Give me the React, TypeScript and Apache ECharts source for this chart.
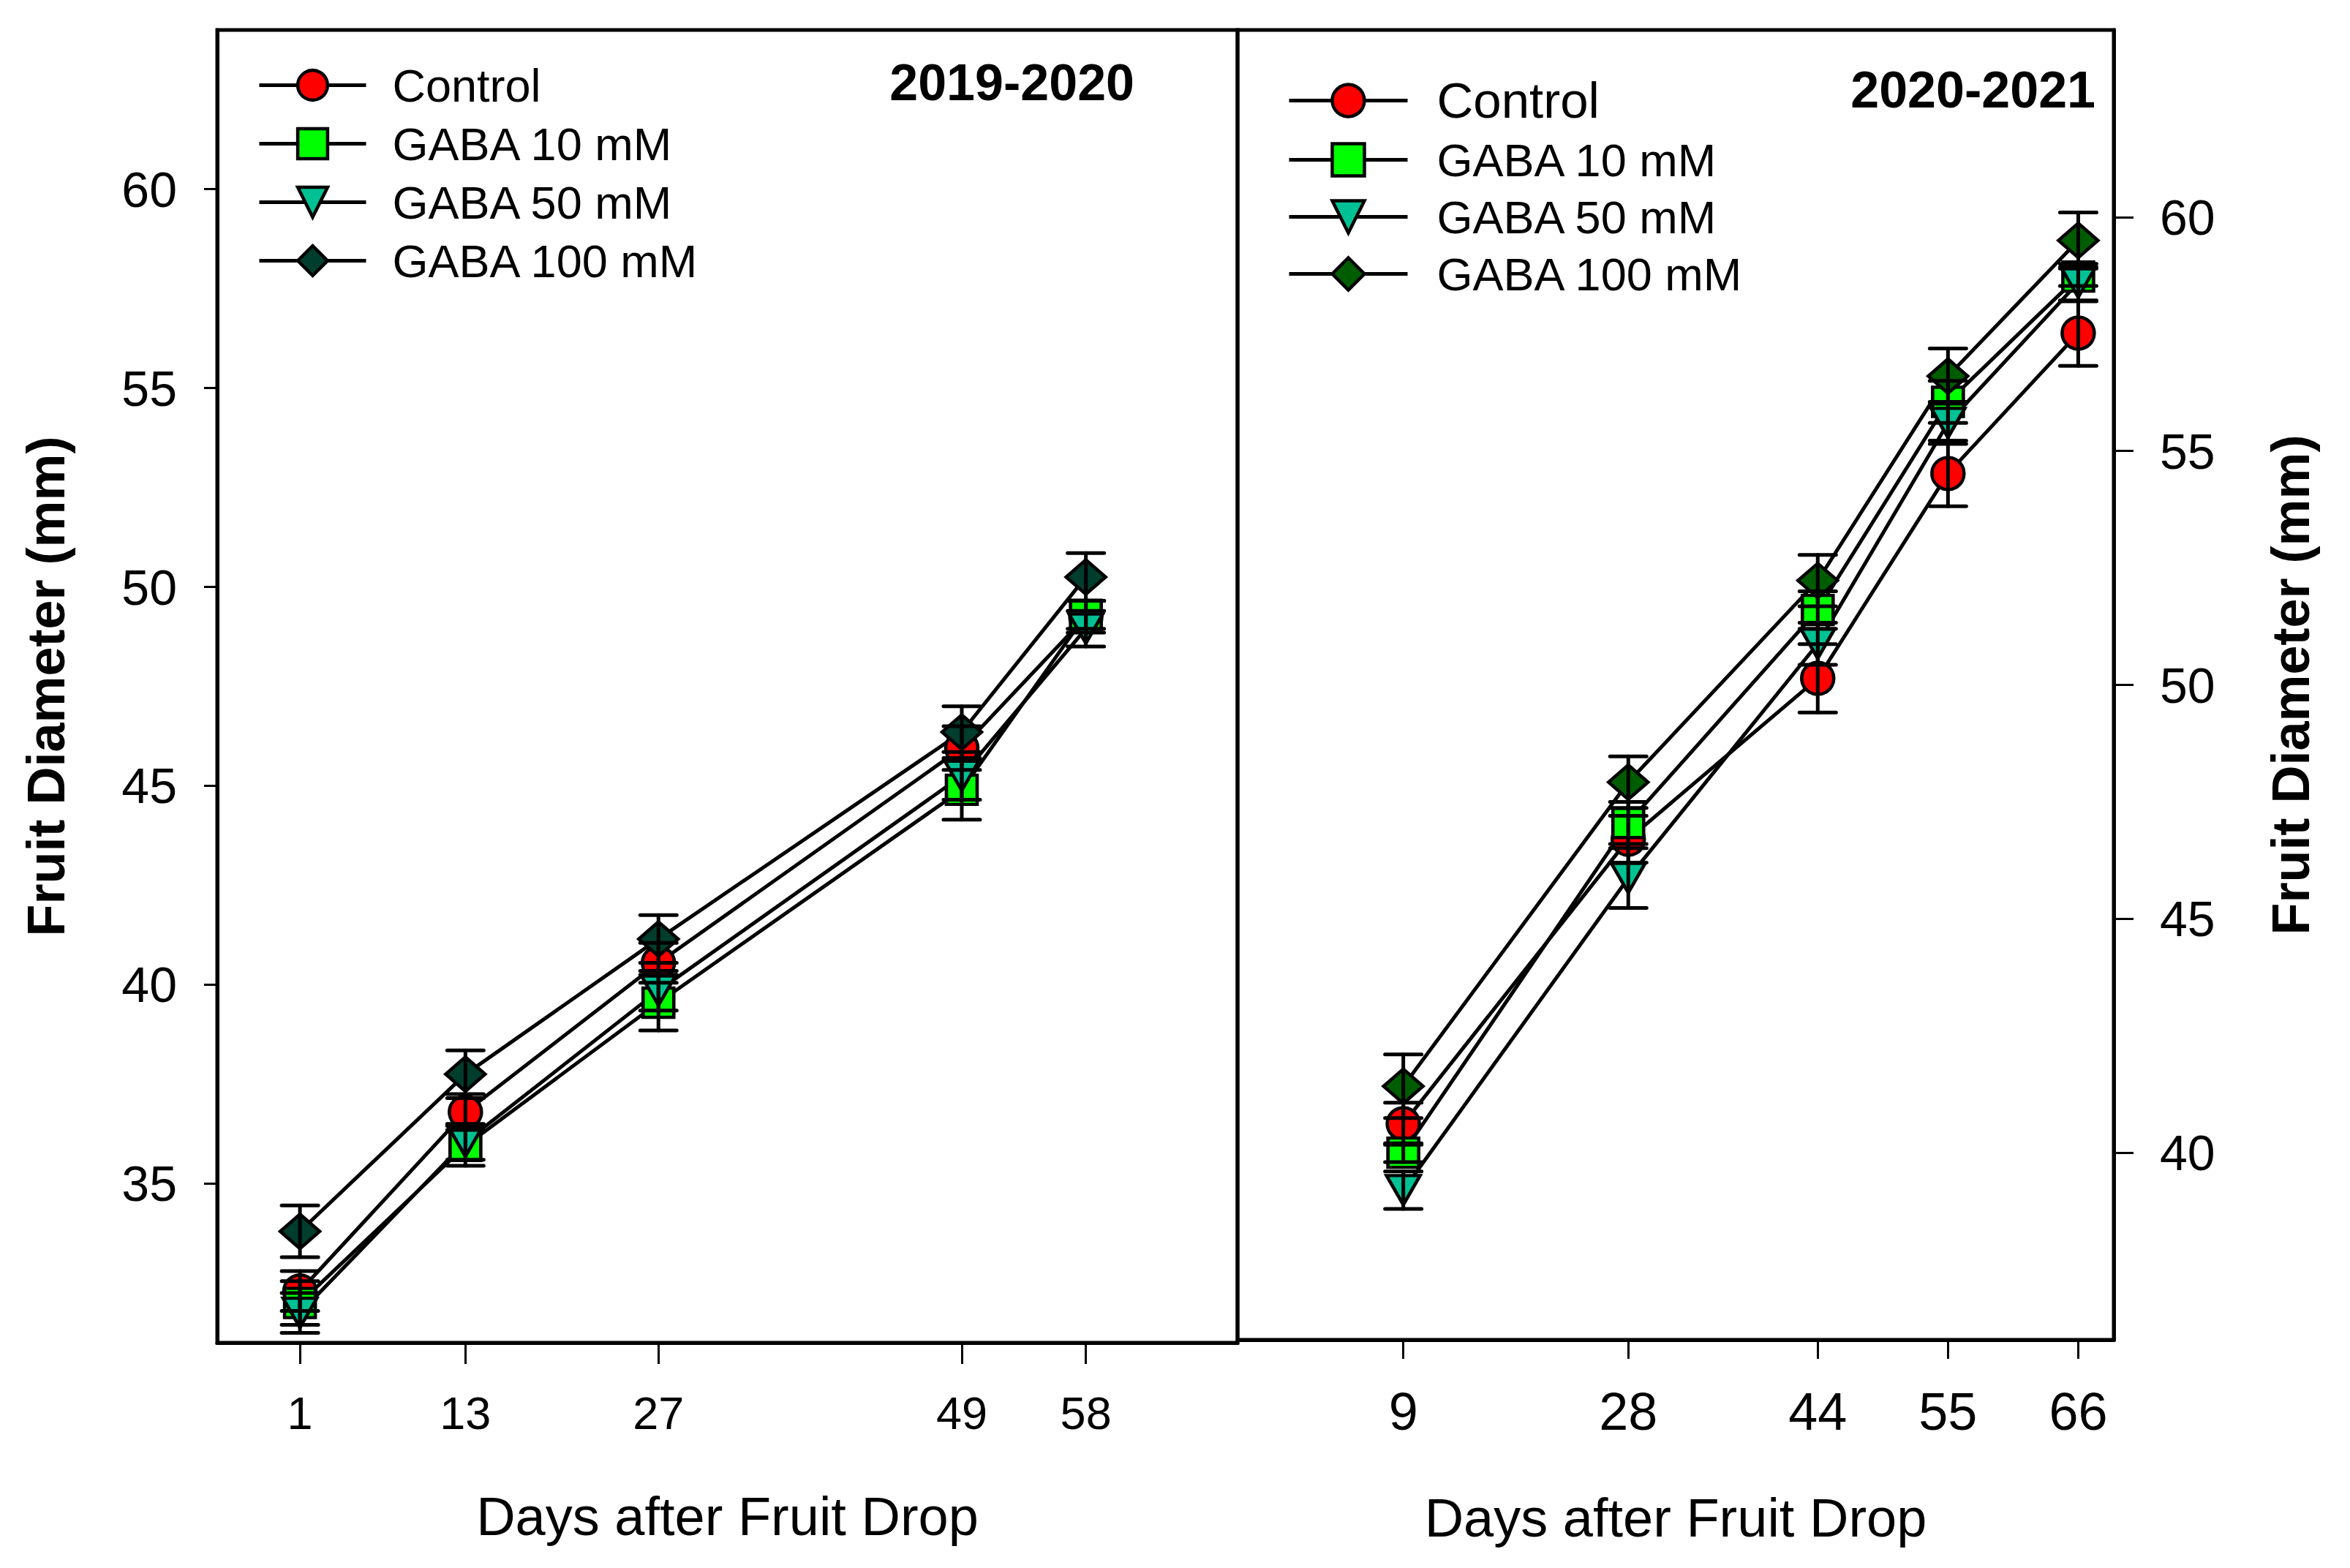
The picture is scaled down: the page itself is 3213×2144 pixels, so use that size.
import React, { useEffect, useRef } from "react";
import * as echarts from "echarts";

// ---------- data ----------
const TREATMENTS = ["Control", "GABA 10 mM", "GABA 50 mM", "GABA 100 mM"];
const PANEL_TITLES = ["2019-2020", "2020-2021"];
const X_TITLE = "Days after Fruit Drop";
const Y_TITLE = "Fruit Diameter (mm)";

const DAYS_A = [1, 13, 27, 49, 58];
const DAYS_B = [9, 28, 44, 55, 66];

const Y_TICKS_A = [35, 40, 45, 50, 55, 60];
const Y_TICKS_B = [40, 45, 50, 55, 60];

// 2019-2020 means
const CONTROL_A = [32.3, 36.8, 40.55, 45.95, 49.25];
const GABA10_A = [32.0, 35.95, 39.55, 44.9, 49.3];
const GABA50_A = [31.75, 36.05, 39.85, 45.25, 48.95];
const GABA100_A = [33.8, 37.75, 41.15, 46.35, 50.25];
// 2019-2020 error (±)
const CONTROL_A_ERR = [0.5, 0.45, 0.5, 0.55, 0.4];
const GABA10_A_ERR = [0.55, 0.5, 0.7, 0.75, 0.35];
const GABA50_A_ERR = [0.5, 0.45, 0.5, 0.6, 0.45];
const GABA100_A_ERR = [0.65, 0.6, 0.6, 0.65, 0.6];

// 2020-2021 means
const CONTROL_B = [40.62, 46.7, 50.14, 54.52, 57.52];
const GABA10_B = [40.0, 47.05, 51.6, 56.05, 58.73];
const GABA50_B = [39.2, 45.87, 50.88, 55.6, 58.6];
const GABA100_B = [41.42, 47.92, 52.23, 56.6, 59.5];
// 2020-2021 error (±)
const CONTROL_B_ERR = [0.45, 0.5, 0.73, 0.7, 0.7];
const GABA10_B_ERR = [0.2, 0.45, 0.4, 0.45, 0.2];
const GABA50_B_ERR = [0.4, 0.64, 0.45, 0.45, 0.4];
const GABA100_B_ERR = [0.68, 0.55, 0.55, 0.59, 0.6];

const SUFFIX_B = " (2020-2021)";

// ---------- styles ----------
const FONT = "'Liberation Sans', Arial, Helvetica, sans-serif";
const FILLS_A = ["#FF0000", "#00FF00", "#00C193", "#003D2C"];
const FILLS_B = ["#FF0000", "#00FF00", "#00C193", "#005C00"];
const SYMBOLS = ["circle", "rect", "triangle", "diamond"];
const SYMBOL_SIZES: any[] = [44, [42, 40], [46, 40], [54, 47]];
const SYMBOL_ROT = [0, 0, 180, 0];
const LW = 5;

function errRender(params: any, api: any) {
  const x = api.value(0);
  const y = api.value(1);
  const e = api.value(2);
  const t = api.coord([x, y + e]);
  const b = api.coord([x, y - e]);
  const hw = 25;
  const st = { stroke: "#000", lineWidth: LW, lineCap: "round" };
  return {
    type: "group",
    children: [
      { type: "line", shape: { x1: t[0], y1: t[1], x2: b[0], y2: b[1] }, style: st },
      { type: "line", shape: { x1: t[0] - hw, y1: t[1], x2: t[0] + hw, y2: t[1] }, style: st },
      { type: "line", shape: { x1: b[0] - hw, y1: b[1], x2: b[0] + hw, y2: b[1] }, style: st },
    ],
  };
}

function buildSeries(
  panel: number,
  days: number[],
  means: number[][],
  errs: number[][],
  fills: string[],
  suffix: string
) {
  const out: any[] = [];
  TREATMENTS.forEach((name, i) => {
    out.push({
      name: name + suffix,
      type: "line",
      xAxisIndex: panel,
      yAxisIndex: panel,
      data: days.map((d, k) => [d, means[i][k]]),
      symbol: SYMBOLS[i],
      symbolSize: SYMBOL_SIZES[i],
      symbolRotate: SYMBOL_ROT[i],
      showAllSymbol: true,
      lineStyle: { color: "#000", width: LW },
      itemStyle: { color: fills[i], borderColor: "#000", borderWidth: 4.5 },
      emphasis: { disabled: true },
      z: 2,
    });
    out.push({
      name: name + suffix + " error",
      type: "custom",
      xAxisIndex: panel,
      yAxisIndex: panel,
      renderItem: errRender,
      data: days.map((d, k) => [d, means[i][k], errs[i][k]]),
      encode: { x: 0, y: 1 },
      z: 3,
      silent: true,
    });
  });
  return out;
}

export default function App() {
  const ref = useRef<HTMLDivElement>(null);

  useEffect(() => {
    if (!ref.current) return;
    const chart = echarts.init(ref.current, null, { renderer: "svg" });

    const seriesA = buildSeries(
      0,
      DAYS_A,
      [CONTROL_A, GABA10_A, GABA50_A, GABA100_A],
      [CONTROL_A_ERR, GABA10_A_ERR, GABA50_A_ERR, GABA100_A_ERR],
      FILLS_A,
      ""
    );
    const seriesB = buildSeries(
      1,
      DAYS_B,
      [CONTROL_B, GABA10_B, GABA50_B, GABA100_B],
      [CONTROL_B_ERR, GABA10_B_ERR, GABA50_B_ERR, GABA100_B_ERR],
      FILLS_B,
      SUFFIX_B
    );

    const xAxisCommon = (gridIndex: number, ticks: number[], fs: number, labelMargin: number, tickLen: number, nameGap: number) => ({
      type: "value",
      gridIndex,
      min: -5,
      max: 69,
      position: "bottom",
      splitLine: { show: false },
      axisLine: { show: true, onZero: false, lineStyle: { color: "#000", width: LW } },
      axisTick: { show: true, customValues: ticks, length: tickLen, lineStyle: { color: "#000", width: 3 } },
      axisLabel: { customValues: ticks, fontSize: fs, color: "#000", margin: labelMargin, fontFamily: FONT },
      name: X_TITLE,
      nameLocation: "middle",
      nameGap,
      nameTextStyle: { fontSize: 74, color: "#000", fontFamily: FONT },
    });

    const option: any = {
      animation: false,
      backgroundColor: "#fff",
      textStyle: { fontFamily: FONT, color: "#000" },
      title: [
        {
          text: PANEL_TITLES[0],
          right: 3213 - 1551,
          top: 78,
          padding: 0,
          textStyle: { fontSize: 70, fontWeight: "bold", color: "#000", fontFamily: FONT },
        },
        {
          text: PANEL_TITLES[1],
          right: 3213 - 2865,
          top: 88,
          padding: 0,
          textStyle: { fontSize: 70, fontWeight: "bold", color: "#000", fontFamily: FONT },
        },
      ],
      legend: [
        {
          orient: "vertical",
          left: 352,
          top: 85,
          padding: 0,
          itemWidth: 146,
          itemHeight: 51,
          itemGap: 17,
          data: TREATMENTS,
          selectedMode: false,
          textStyle: { fontSize: 63, color: "#000", lineHeight: 50, padding: [0, 0, 0, 31], fontFamily: FONT },
          itemStyle: { borderColor: "#000", borderWidth: 4.5 },
          lineStyle: { color: "#000", width: LW },
        },
        {
          orient: "vertical",
          left: 1760,
          top: 103,
          padding: 0,
          itemWidth: 162,
          itemHeight: 55,
          itemGap: 15,
          selectedMode: false,
          data: TREATMENTS.map((t, i) =>
            i === 0
              ? { name: t + SUFFIX_B, textStyle: { fontSize: 69 } }
              : { name: t + SUFFIX_B }
          ),
          formatter: (n: string) => n.replace(SUFFIX_B, ""),
          textStyle: { fontSize: 63, color: "#000", lineHeight: 54, padding: [0, 0, 0, 35], fontFamily: FONT },
          itemStyle: { borderColor: "#000", borderWidth: 4.5 },
          lineStyle: { color: "#000", width: LW },
        },
      ],
      grid: [
        { left: 297, top: 41, width: 1395, height: 1795, show: true, borderColor: "#000", borderWidth: LW, backgroundColor: "transparent" },
        { left: 1692, top: 41, width: 1198, height: 1791, show: true, borderColor: "#000", borderWidth: LW, backgroundColor: "transparent" },
      ],
      xAxis: [
        xAxisCommon(0, DAYS_A, 63, 64, 29, 200),
        xAxisCommon(1, DAYS_B, 72, 62, 26, 206),
      ],
      yAxis: [
        {
          type: "value",
          gridIndex: 0,
          position: "left",
          min: 31,
          max: 64,
          splitLine: { show: false },
          axisLine: { show: true, onZero: false, lineStyle: { color: "#000", width: LW } },
          axisTick: { show: true, customValues: Y_TICKS_A, length: 18, lineStyle: { color: "#000", width: 3 } },
          axisLabel: { customValues: Y_TICKS_A, fontSize: 68, color: "#000", margin: 55, fontFamily: FONT },
          name: Y_TITLE,
          nameLocation: "middle",
          nameRotate: 90,
          nameGap: 198,
          nameTextStyle: { fontSize: 72, fontWeight: "bold", color: "#000", fontFamily: FONT },
        },
        {
          type: "value",
          gridIndex: 1,
          position: "right",
          min: 36,
          max: 64,
          splitLine: { show: false },
          axisLine: { show: true, onZero: false, lineStyle: { color: "#000", width: LW } },
          axisTick: { show: true, customValues: Y_TICKS_B, length: 27, lineStyle: { color: "#000", width: 3 } },
          axisLabel: { customValues: Y_TICKS_B, fontSize: 68, color: "#000", margin: 63, fontFamily: FONT },
          name: Y_TITLE,
          nameLocation: "middle",
          nameRotate: 90,
          nameGap: 206,
          nameTextStyle: { fontSize: 72, fontWeight: "bold", color: "#000", fontFamily: FONT },
        },
      ],
      series: [...seriesA, ...seriesB],
    };

    chart.setOption(option);
    return () => chart.dispose();
  }, []);

  return (
    <div
      ref={ref}
      style={{ position: "fixed", left: 0, top: 0, width: 3213, height: 2144, background: "#fff" }}
    />
  );
}
